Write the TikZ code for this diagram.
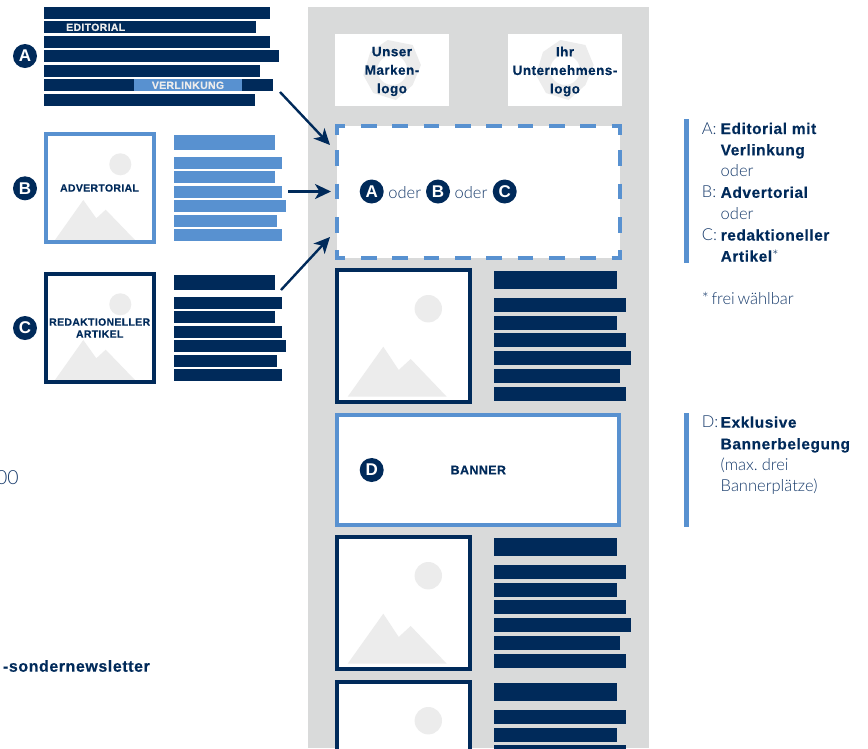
\documentclass[tikz,border=0pt]{standalone}
\usepackage{fontspec}
\setmainfont{Liberation Sans}
\newfontfamily\lblfont[LetterSpace=3,FakeBold=0.25]{Liberation Sans Bold}
\newfontfamily\boldfont[LetterSpace=3.5,FakeBold=0.3]{Liberation Sans Bold}
\newfontfamily\lightfont[WordSpace=0.6]{Lato Light}
\usetikzlibrary{arrows.meta}
\definecolor{navy}{HTML}{002A5A}
\definecolor{midblue}{HTML}{5891D0}
\definecolor{panel}{HTML}{D9DADA}
\definecolor{pale}{HTML}{ECECEC}
\definecolor{softnavy}{HTML}{163A6B}
\tikzset{
  badge/.style={circle,fill=navy,text=white,minimum size=24pt,inner sep=0pt,font=\fontsize{17}{17}\selectfont\bfseries},
  tag/.style={inner sep=0pt,text=navy,align=center,font=\fontsize{10.5}{12}\lblfont},
  logotext/.style={inner sep=0pt,text=navy,align=center,font=\fontsize{13.5}{18.5}\boldfont},
  lg/.style={inner sep=0pt,anchor=base west,text=softnavy,font=\fontsize{16.5}{16.5}\lightfont},
  lgb/.style={inner sep=0pt,anchor=base west,text=navy,font=\fontsize{15.5}{15.5}\boldfont},
  flow/.style={draw=navy,line width=2.4pt,-{Stealth[length=16pt,width=15pt,inset=4.5pt]}},
  frameline/.style={draw=midblue,line width=4pt},
}
\newcommand{\smallpic}[2]{%
  \begin{scope}[shift={(0,#1)}]
    \fill[white] (44,132) rectangle (156,244);
    \fill[pale] (120.3,164.3) circle (11);
    \fill[pale] (55,240) -- (83.3,200) -- (96.3,218.3) -- (105.7,209.7) -- (135,240) -- cycle;
    \draw[#2,line width=4pt] (46,134) rectangle (154,242);
  \end{scope}}
\newcommand{\sidebars}[2]{%
  \begin{scope}[shift={(0,#1)}]
    \fill[#2] (174,135) rectangle (275,150);
    \fill[#2] (174,157) rectangle (282,169);
    \fill[#2] (174,171) rectangle (275,183);
    \fill[#2] (174,186) rectangle (282,198);
    \fill[#2] (174,200) rectangle (286,212);
    \fill[#2] (174,215) rectangle (277,227);
    \fill[#2] (174,229) rectangle (282,241);
  \end{scope}}
\newcommand{\bigpic}[1]{%
  \begin{scope}[shift={(0,#1)}]
    \fill[white] (335,268) rectangle (472,404);
    \fill[pale] (428.3,308.7) circle (13.7);
    \fill[pale] (347.7,396.7) -- (383.3,346.7) -- (398.7,370) -- (410.7,359) -- (446.7,396.7) -- cycle;
    \draw[navy,line width=4pt] (337,270.3) rectangle (469.7,402.3);
    \fill[navy] (494,271) rectangle (617,289);
    \fill[navy] (494,298) rectangle (626,312);
    \fill[navy] (494,316) rectangle (617,330);
    \fill[navy] (494,333) rectangle (626,347);
    \fill[navy] (494,351) rectangle (631,365);
    \fill[navy] (494,369) rectangle (620,383);
    \fill[navy] (494,387) rectangle (626,401);
  \end{scope}}
\newcommand{\logoring}[1]{%
  \begin{scope}[shift={(#1,70)}]
    \fill[pale,even odd rule] (-4.6,-30) -- (20.4,-25) -- (28.6,-5) -- (20.4,15) -- (3.6,30) -- (-19,23) -- (-29,5) -- (-22,-18) -- cycle
      (0,0) circle (15);
  \end{scope}}
\begin{document}
\begin{tikzpicture}[x=1pt,y=-1pt]
\useasboundingbox (0,0) rectangle (868,748);
\clip (0,0) rectangle (868,748);
\fill[white] (0,0) rectangle (868,748);
\fill[panel] (308,7) rectangle (649,748);
\fill[navy] (44,7) rectangle (270,19);
\fill[navy] (44,21) rectangle (256,33);
\fill[navy] (44,36) rectangle (270,48);
\fill[navy] (44,50) rectangle (279,62);
\fill[navy] (44,65) rectangle (260,77);
\fill[navy] (44,79) rectangle (273,91);
\fill[navy] (44,94) rectangle (255,106);
\fill[midblue] (134,79) rectangle (242,91);
\node[tag,text=pale] (editorial) at (95.7,27.3) {EDITORIAL};
\node[tag,text=pale] (verlinkung) at (188,85.3) {VERLINKUNG};
\node[badge] (badgeA) at (25,56) {A};
\smallpic{0}{midblue}
\smallpic{140}{navy}
\sidebars{0}{midblue}
\sidebars{140}{navy}
\node[tag] (advertorial) at (99.5,188) {ADVERTORIAL};
\node[tag] (redaktionell) at (99.7,328) {REDAKTIONELLER\\ARTIKEL};
\node[badge] (badgeB) at (25,188.3) {B};
\node[badge] (badgeC) at (25,328) {C};
\fill[white] (335,34) rectangle (449,106);
\fill[white] (508,34) rectangle (622,106);
\logoring{392.3}
\logoring{565}
\node[logotext] (logoA) at (392,71.5) {Unser\\Marken-\\logo};
\node[logotext] (logoB) at (565,71.5) {Ihr\\Unternehmens-\\logo};
\fill[white] (337,125.5) rectangle (620,257.5);
\draw[frameline] (345,125.5) -- (337,125.5) -- (337,135);
\draw[frameline] (611.7,125.5) -- (620,125.5) -- (620,135);
\draw[frameline] (345,257.5) -- (337,257.5) -- (337,250);
\draw[frameline] (611.7,257.5) -- (620,257.5) -- (620,250);
\foreach \xx in {361,392.3,423.6,455,486.3,517.6,549,580.3}{
  \draw[frameline] (\xx,125.5) -- ++(15.7,0);
  \draw[frameline] (\xx,257.5) -- ++(15.7,0);
}
\foreach \yy in {150,183.5,217}{
  \draw[frameline] (337,\yy) -- ++(0,15.7);
  \draw[frameline] (620,\yy) -- ++(0,15.7);
}
\node[badge] (slotA) at (371.7,191.5) {A};
\node[badge] (slotB) at (438,191.5) {B};
\node[badge] (slotC) at (504.7,191.5) {C};
\node[lg,anchor=base] (oderA) at (404.8,198) {oder};
\node[lg,anchor=base] (oderB) at (471,198) {oder};
\coordinate (fromA) at (280,92);
\coordinate (toA) at (330,145);
\coordinate (fromB) at (288,191.5);
\coordinate (toB) at (331,191.5);
\coordinate (fromC) at (281,290);
\coordinate (toC) at (330,237);
\draw[flow] (fromA) -- (toA);
\draw[flow] (fromB) -- (toB);
\draw[flow] (fromC) -- (toC);
\bigpic{0}
\bigpic{267}
\bigpic{412}
\fill[white] (337,415.3) rectangle (619,524.7);
\draw[frameline] (337,415.3) rectangle (619,524.7);
\node[badge] (badgeD) at (371.7,470) {D};
\node[tag,font=\fontsize{12.5}{12.5}\lblfont] (banner) at (478.3,470) {BANNER};
\fill[midblue] (684,119.3) rectangle (689,263.3);
\fill[midblue] (684,413.3) rectangle (689,526.7);
\node[lg] (la) at (701.7,134) {A:};
\node[lgb] (la1) at (720.5,134) {Editorial mit};
\node[lgb] (la2) at (720.5,155.3) {Verlinkung};
\node[lg] (la3) at (720.5,176.7) {oder};
\node[lg] (lb) at (701.7,197.8) {B:};
\node[lgb] (lb1) at (720.5,197.8) {Advertorial};
\node[lg] (lb2) at (720.5,219) {oder};
\node[lg] (lc) at (701.7,240.5) {C:};
\node[lgb] (lc1) at (720.5,240.5) {redaktioneller};
\node[lgb] (lc2) at (720.5,261.7) {Artikel{\lightfont*}};
\node[lg] (lstar) at (701.7,304.3) {* frei wählbar};
\node[lg] (ld) at (701.7,427.7) {D:};
\node[lgb] (ld1) at (720.5,427.7) {Exklusive};
\node[lgb] (ld2) at (720.5,449.3) {Bannerbelegung};
\node[lg] (ld3) at (720.5,470.3) {(max. drei};
\node[lg] (ld4) at (720.5,491.7) {Bannerplätze)};
\node[lg,anchor=base east,font=\fontsize{19.5}{20}\lightfont] (cutnum) at (19,484) {00};
\node[lgb,anchor=base east,font=\fontsize{16}{16}\boldfont] (cutname) at (150,671.7) {-sondernewsletter};
\end{tikzpicture}
\end{document}
